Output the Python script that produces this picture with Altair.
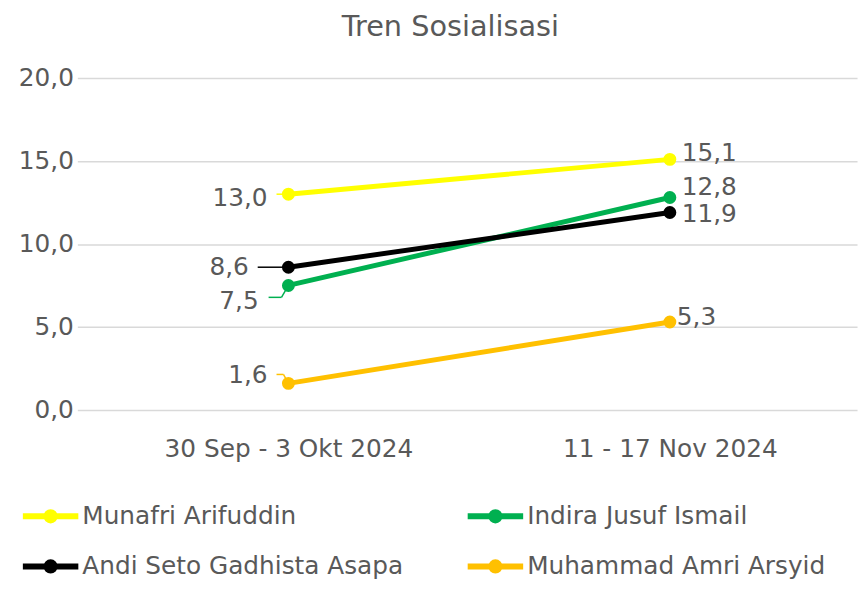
import altair as alt
import pandas as pd

# ---- data ----
periods = ["30 Sep - 3 Okt 2024", "11 - 17 Nov 2024"]
series = ["Munafri Arifuddin", "Indira Jusuf Ismail", "Andi Seto Gadhista Asapa", "Muhammad Amri Arsyid"]
munafri = [13.0, 15.1]
indira = [7.5, 12.8]
andi = [8.6, 11.9]
amri = [1.6, 5.3]
y_ticks = [0, 5, 10, 15, 20]

# ---- style ----
colors = ["#FFFF00", "#00B050", "#000000", "#FFC000"]
FONT = "DejaVu Sans"
GREY = "#595959"
# label offsets (dx, dy) per series, per period
label_offsets = {
    "Munafri Arifuddin": [(-21, 4), (12, -6)],
    "Indira Jusuf Ismail": [(-30, 16), (12, -11)],
    "Andi Seto Gadhista Asapa": [(-40, 0), (12, 2)],
    "Muhammad Amri Arsyid": [(-21, -8), (7, -5)],
}
# leader line segments at left period: (series, x1, y1, x2, y2) pixel offsets
leaders = [
    ("Munafri Arifuddin", -12, 0, 0, 0),
    ("Andi Seto Gadhista Asapa", -31, 0, 0, 0),
    ("Indira Jusuf Ismail", -20, 12, -7, 12),
    ("Indira Jusuf Ismail", -7, 12, 0, 0),
    ("Muhammad Amri Arsyid", -12, -9, -5, -9),
    ("Muhammad Amri Arsyid", -5, -9, 0, 0),
]

rows = []
for s, vals in zip(series, [munafri, indira, andi, amri]):
    for p, v in zip(periods, vals):
        rows.append({"series": s, "period": p, "value": v,
                     "label": f"{v:.1f}".replace(".", ",")})
df = pd.DataFrame(rows)

x_axis = alt.X("period:N", sort=periods,
               scale=alt.Scale(type="point", padding=0.522, align=0.53),
               axis=alt.Axis(title=None, labelFontSize=25, labelColor=GREY, labelFont=FONT,
                             labelPadding=27, ticks=False, domain=False, grid=False, labelAngle=0,
                             labelLimit=600))
y_axis = alt.Y("value:Q", scale=alt.Scale(domain=[0, 20], nice=False),
               axis=alt.Axis(title=None, values=y_ticks,
                             labelExpr="replace(format(datum.value, '.1f'), '.', ',')",
                             labelFontSize=25, labelColor=GREY, labelFont=FONT, labelPadding=4,
                             ticks=False, domain=False, grid=True, gridColor="#D9D9D9", gridWidth=1.5))
x_plain = alt.X("period:N", sort=periods)
y_plain = alt.Y("value:Q")

legend_symbol = ("M-1,0L1,0M-0.15,0A0.15,0.15,0,1,0,0.15,0"
                 "A0.15,0.15,0,1,0,-0.15,0")
color_enc = alt.Color(
    "series:N", sort=series, scale=alt.Scale(domain=series, range=colors),
    legend=alt.Legend(title=None, orient="none", legendX=-58, legendY=411, columns=2,
                      direction="horizontal",
                      symbolType=legend_symbol, symbolSize=3136, symbolStrokeWidth=6,
                      labelFontSize=25, labelColor=GREY, labelFont=FONT, labelOffset=1,
                      columnPadding=52, rowPadding=3, padding=0, labelLimit=600))

base = alt.Chart(df)

layers = []
# leader lines
for s, x1, y1, x2, y2 in leaders:
    col = colors[series.index(s)]
    layers.append(
        base.transform_filter((alt.datum.series == s) & (alt.datum.period == periods[0]))
        .mark_rule(color=col, strokeWidth=1.5, xOffset=x1, yOffset=y1, x2Offset=x2, y2Offset=y2)
        .encode(x=x_plain, x2="period:N", y=y_plain, y2="value:Q")
    )

lines = base.mark_line(strokeWidth=5, strokeCap="round",
                       point=alt.OverlayMarkDef(size=170, filled=True, opacity=1)).encode(
    x=x_axis, y=y_axis, color=color_enc, detail="series:N")

texts = []
for s in series:
    for j, p in enumerate(periods):
        dx, dy = label_offsets[s][j]
        texts.append(
            base.transform_filter((alt.datum.series == s) & (alt.datum.period == p))
            .mark_text(align="right" if j == 0 else "left", baseline="middle", dx=dx, dy=dy,
                       fontSize=25, font=FONT, color=GREY)
            .encode(x=x_plain, y=y_plain, text="label:N")
        )

chart = alt.layer(lines, *layers, *texts).properties(
    width=787, height=335,
    title=alt.TitleParams("Tren Sosialisasi", fontSize=29, color=GREY, font=FONT,
                          fontWeight="normal", dx=-17, offset=24),
    autosize=alt.AutoSizeParams(type="none"),
    padding={"left": 70, "top": 68, "right": 3, "bottom": 170},
).configure_view(stroke=None)

chart.save("out.html", embed_options={"renderer": "svg", "actions": False})
